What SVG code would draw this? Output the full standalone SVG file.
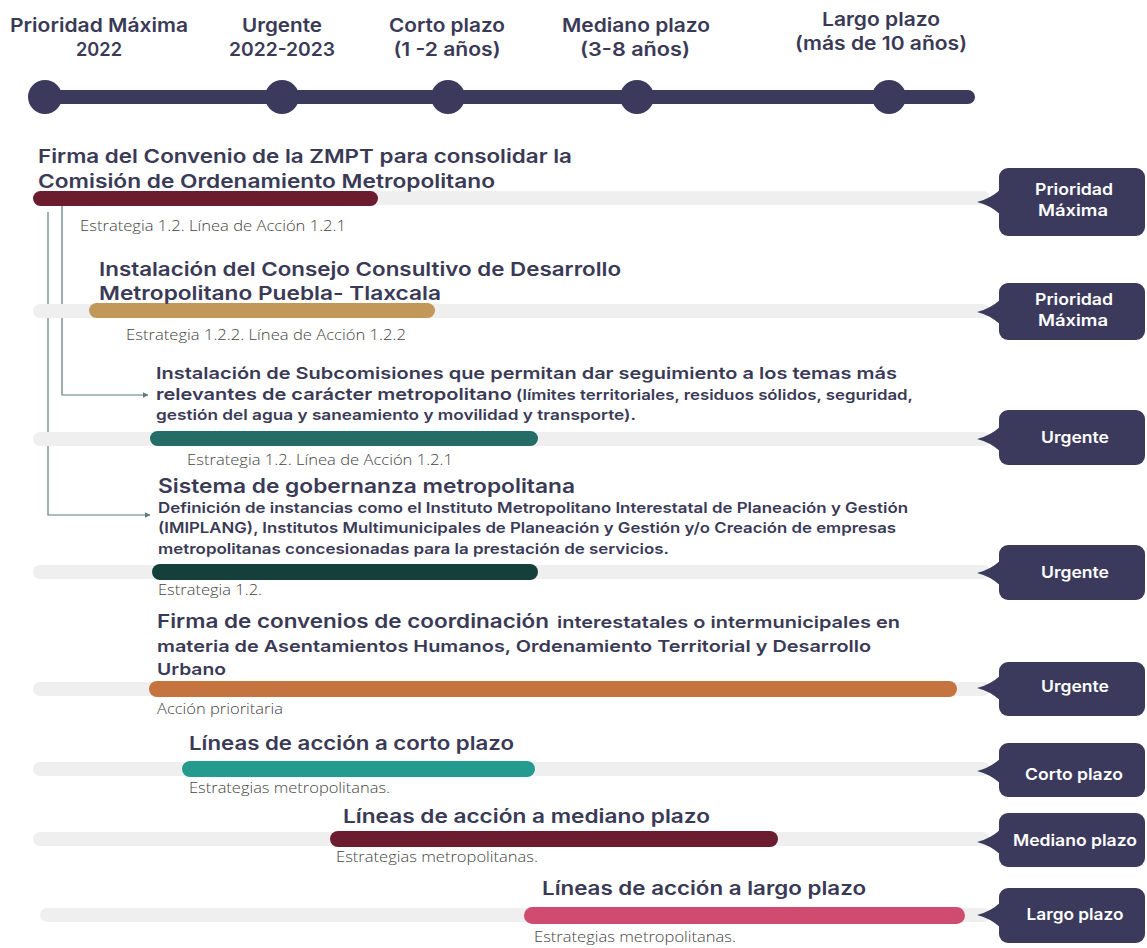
<svg xmlns="http://www.w3.org/2000/svg" width="1147" height="948" viewBox="0 0 1147 948">
<defs>
<style>
text{font-family:Inter,"Noto Sans","Liberation Sans",sans-serif;fill:#3a3a56}
.hdr{font-size:19px;font-weight:600;text-anchor:middle}
.ttl{font-size:19px;font-weight:600}
.tm{font-size:16.5px;font-weight:600}
.ts{font-size:14.5px;font-weight:600}
.sub{font-family:"Open Sans","Noto Sans",sans-serif;font-size:14px;font-weight:300;fill:#444444}
.bt{font-size:16px;font-weight:600;fill:#ffffff;text-anchor:middle}
.track{fill:#efefef}
.badge{fill:#3b3a5c}
.conn{fill:none;stroke:#5d7c78;stroke-width:1.2}
</style>
<marker id="arr" viewBox="0 0 10 10" refX="9" refY="5" markerWidth="6" markerHeight="6" orient="auto" markerUnits="userSpaceOnUse">
<path d="M0,0 L10,5 L0,10 Z" fill="#5d7c78"/>
</marker>
</defs>
<rect width="1147" height="948" fill="#ffffff"/>

<g id="timeline">
<line x1="38" y1="97" x2="968" y2="97" stroke="#3b3a5c" stroke-width="14" stroke-linecap="round"/>
<circle cx="45" cy="97" r="17" fill="#3b3a5c"/>
<circle cx="282" cy="97" r="17" fill="#3b3a5c"/>
<circle cx="448" cy="97" r="17" fill="#3b3a5c"/>
<circle cx="637" cy="97" r="17" fill="#3b3a5c"/>
<circle cx="889" cy="97" r="17" fill="#3b3a5c"/>
<text class="hdr" x="99" y="32" textLength="178" lengthAdjust="spacingAndGlyphs">Prioridad Máxima</text>
<text class="hdr" x="99" y="56" textLength="46" lengthAdjust="spacingAndGlyphs">2022</text>
<text class="hdr" x="282" y="32" textLength="80" lengthAdjust="spacingAndGlyphs">Urgente</text>
<text class="hdr" x="282" y="56" textLength="106" lengthAdjust="spacingAndGlyphs">2022-2023</text>
<text class="hdr" x="447" y="32" textLength="116" lengthAdjust="spacingAndGlyphs">Corto plazo</text>
<text class="hdr" x="447" y="56" textLength="107" lengthAdjust="spacingAndGlyphs">(1 -2 años)</text>
<text class="hdr" x="636" y="32" textLength="148" lengthAdjust="spacingAndGlyphs">Mediano plazo</text>
<text class="hdr" x="635" y="56" textLength="110" lengthAdjust="spacingAndGlyphs">(3-8 años)</text>
<text class="hdr" x="881" y="26" textLength="118" lengthAdjust="spacingAndGlyphs">Largo plazo</text>
<text class="hdr" x="881" y="50" textLength="172" lengthAdjust="spacingAndGlyphs">(más de 10 años)</text>
</g>

<g id="connectors">
<polyline class="conn" points="62,204 62,395 148,395" marker-end="url(#arr)"/>
<polyline class="conn" points="48,212 48,515 150,515" marker-end="url(#arr)"/>
</g>

<g id="row1">
<rect class="track" x="33" y="191" width="957" height="14" rx="7"/>
<rect x="33" y="191" width="345" height="15" rx="7.5" fill="#6b1d2f"/>
<text class="ttl" x="38" y="163" textLength="534" lengthAdjust="spacingAndGlyphs">Firma del Convenio de la ZMPT para consolidar la</text>
<text class="ttl" x="38" y="188" textLength="457" lengthAdjust="spacingAndGlyphs">Comisión de Ordenamiento Metropolitano</text>
<text class="sub" x="80" y="231" textLength="266" lengthAdjust="spacingAndGlyphs">Estrategia 1.2. Línea de Acción 1.2.1</text>
</g>

<g id="row2">
<rect class="track" x="33" y="304" width="957" height="14" rx="7"/>
<rect x="89" y="303" width="346" height="15" rx="7.5" fill="#c1975a"/>
<text class="ttl" x="99" y="276" textLength="522" lengthAdjust="spacingAndGlyphs">Instalación del Consejo Consultivo de Desarrollo</text>
<text class="ttl" x="99" y="300" textLength="342" lengthAdjust="spacingAndGlyphs">Metropolitano Puebla- Tlaxcala</text>
<text class="sub" x="126" y="340" textLength="280" lengthAdjust="spacingAndGlyphs">Estrategia 1.2.2. Línea de Acción 1.2.2</text>
</g>

<g id="row3">
<rect class="track" x="33" y="432" width="957" height="14" rx="7"/>
<rect x="150" y="431" width="388" height="15" rx="7.5" fill="#256b66"/>
<text class="tm" x="156" y="379" textLength="741" lengthAdjust="spacingAndGlyphs">Instalación de Subcomisiones que permitan dar seguimiento a los temas más</text>
<text class="tm" x="156" y="400" textLength="356" lengthAdjust="spacingAndGlyphs">relevantes de carácter metropolitano</text>
<text class="ts" x="516" y="400" textLength="397" lengthAdjust="spacingAndGlyphs">(límites territoriales, residuos sólidos, seguridad,</text>
<text class="ts" x="156" y="420" textLength="480" lengthAdjust="spacingAndGlyphs">gestión del agua y saneamiento y movilidad y transporte).</text>
<text class="sub" x="187" y="465" textLength="266" lengthAdjust="spacingAndGlyphs">Estrategia 1.2. Línea de Acción 1.2.1</text>
</g>

<g id="row4">
<rect class="track" x="33" y="565" width="957" height="14" rx="7"/>
<rect x="152" y="564" width="386" height="16" rx="8" fill="#143f3a"/>
<text class="ttl" x="158" y="493" style="font-size:20px" textLength="417" lengthAdjust="spacingAndGlyphs">Sistema de gobernanza metropolitana</text>
<text class="ts" x="158" y="513" textLength="750" lengthAdjust="spacingAndGlyphs">Definición de instancias como el Instituto Metropolitano Interestatal de Planeación y Gestión</text>
<text class="ts" x="158" y="533" textLength="738" lengthAdjust="spacingAndGlyphs">(IMIPLANG), Institutos Multimunicipales de Planeación y Gestión y/o Creación de empresas</text>
<text class="ts" x="158" y="554" textLength="511" lengthAdjust="spacingAndGlyphs">metropolitanas concesionadas para la prestación de servicios.</text>
<text class="sub" x="158" y="595" textLength="104" lengthAdjust="spacingAndGlyphs">Estrategia 1.2.</text>
</g>

<g id="row5">
<rect class="track" x="33" y="682" width="957" height="14" rx="7"/>
<rect x="149" y="681" width="808" height="16" rx="8" fill="#c5743f"/>
<text class="ttl" x="157" y="628" textLength="392" lengthAdjust="spacingAndGlyphs">Firma de convenios de coordinación</text>
<text class="tm" x="557" y="628" textLength="343" lengthAdjust="spacingAndGlyphs">interestatales o intermunicipales en</text>
<text class="tm" x="157" y="652" textLength="714" lengthAdjust="spacingAndGlyphs">materia de Asentamientos Humanos, Ordenamiento Territorial y Desarrollo</text>
<text class="tm" x="157" y="675" textLength="69" lengthAdjust="spacingAndGlyphs">Urbano</text>
<text class="sub" x="157" y="714" textLength="126" lengthAdjust="spacingAndGlyphs">Acción prioritaria</text>
</g>

<g id="row6">
<rect class="track" x="33" y="762" width="957" height="14" rx="7"/>
<rect x="182" y="761" width="353" height="16" rx="8" fill="#259a8f"/>
<text class="ttl" x="189" y="750" textLength="325" lengthAdjust="spacingAndGlyphs">Líneas de acción a corto plazo</text>
<text class="sub" x="189" y="793" textLength="201" lengthAdjust="spacingAndGlyphs">Estrategias metropolitanas.</text>
</g>

<g id="row7">
<rect class="track" x="33" y="832" width="957" height="14" rx="7"/>
<rect x="330" y="831" width="448" height="16" rx="8" fill="#6b1d2f"/>
<text class="ttl" x="343" y="823" textLength="367" lengthAdjust="spacingAndGlyphs">Líneas de acción a mediano plazo</text>
<text class="sub" x="336" y="862" textLength="202" lengthAdjust="spacingAndGlyphs">Estrategias metropolitanas.</text>
</g>

<g id="row8">
<rect class="track" x="40" y="908" width="950" height="14" rx="7"/>
<rect x="524" y="907" width="441" height="17" rx="8.5" fill="#cf4c70"/>
<text class="ttl" x="542" y="895" textLength="324" lengthAdjust="spacingAndGlyphs">Líneas de acción a largo plazo</text>
<text class="sub" x="534" y="942" textLength="202" lengthAdjust="spacingAndGlyphs">Estrategias metropolitanas.</text>
</g>

<g id="badge1">
<rect class="badge" x="999" y="168" width="146" height="68" rx="9"/>
<path class="badge" d="M1001,189 Q990,199 977,202 Q990,205 1001,215 Z"/>
<text class="bt" x="1074" y="195" textLength="78" lengthAdjust="spacingAndGlyphs">Prioridad</text>
<text class="bt" x="1073" y="216" textLength="70" lengthAdjust="spacingAndGlyphs">Máxima</text>
</g>
<g id="badge2">
<rect class="badge" x="999" y="283" width="146" height="57" rx="9"/>
<path class="badge" d="M1001,299 Q990,309 977,312 Q990,315 1001,325 Z"/>
<text class="bt" x="1074" y="305" textLength="78" lengthAdjust="spacingAndGlyphs">Prioridad</text>
<text class="bt" x="1073" y="326" textLength="70" lengthAdjust="spacingAndGlyphs">Máxima</text>
</g>
<g id="badge3">
<rect class="badge" x="999" y="410" width="146" height="55" rx="9"/>
<path class="badge" d="M1001,426 Q990,436 977,439 Q990,442 1001,452 Z"/>
<text class="bt" x="1075" y="443" textLength="68" lengthAdjust="spacingAndGlyphs">Urgente</text>
</g>
<g id="badge4">
<rect class="badge" x="999" y="545" width="146" height="55" rx="9"/>
<path class="badge" d="M1001,560 Q990,570 977,573 Q990,576 1001,586 Z"/>
<text class="bt" x="1075" y="578" textLength="68" lengthAdjust="spacingAndGlyphs">Urgente</text>
</g>
<g id="badge5">
<rect class="badge" x="999" y="662" width="146" height="54" rx="9"/>
<path class="badge" d="M1001,675 Q990,685 977,688 Q990,691 1001,701 Z"/>
<text class="bt" x="1075" y="692" textLength="68" lengthAdjust="spacingAndGlyphs">Urgente</text>
</g>
<g id="badge6">
<rect class="badge" x="999" y="743" width="146" height="54" rx="9"/>
<path class="badge" d="M1001,758 Q990,768 977,771 Q990,774 1001,784 Z"/>
<text class="bt" x="1074" y="780" textLength="98" lengthAdjust="spacingAndGlyphs">Corto plazo</text>
</g>
<g id="badge7">
<rect class="badge" x="999" y="813" width="146" height="54" rx="9"/>
<path class="badge" d="M1001,829 Q990,839 977,842 Q990,845 1001,855 Z"/>
<text class="bt" x="1075" y="846" textLength="124" lengthAdjust="spacingAndGlyphs">Mediano plazo</text>
</g>
<g id="badge8">
<rect class="badge" x="999" y="888" width="146" height="55" rx="9"/>
<path class="badge" d="M1001,902 Q990,912 977,915 Q990,918 1001,928 Z"/>
<text class="bt" x="1075" y="920" textLength="97" lengthAdjust="spacingAndGlyphs">Largo plazo</text>
</g>
</svg>
